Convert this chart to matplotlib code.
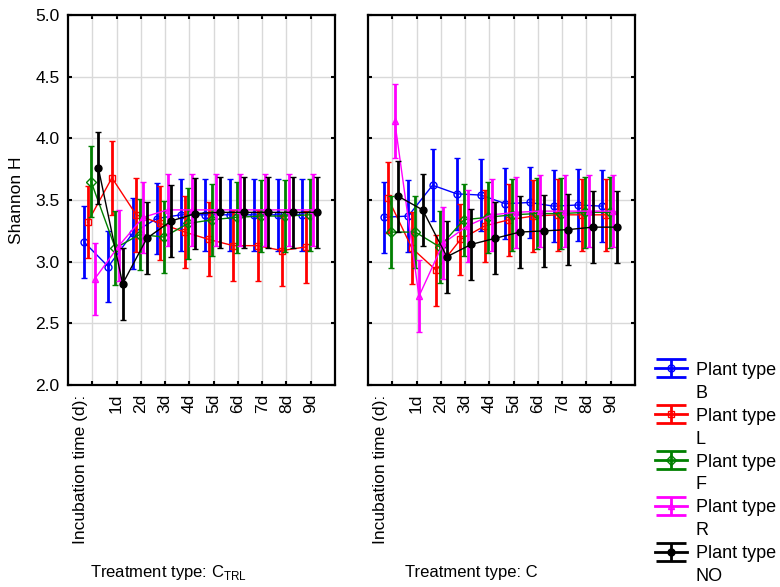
import numpy as np
import matplotlib
matplotlib.use("Agg")
import matplotlib.pyplot as plt
from matplotlib.lines import Line2D
from matplotlib.collections import LineCollection
from matplotlib.container import ErrorbarContainer

plt.rcParams["font.family"] = ["Liberation Sans", "DejaVu Sans"]
plt.rcParams["mathtext.fontset"] = "custom"
plt.rcParams["mathtext.rm"] = "Liberation Sans"

# incubation days (0 = start, left unlabeled)
DAY_LABELS = ["", "1d", "2d", "3d", "4d", "5d", "6d", "7d", "8d", "9d"]
PLANT_TYPES = ["B", "L", "F", "R", "NO"]

# Shannon H means, treatment C_TRL
ctrl_B = [3.16, 2.96, 3.23, 3.35, 3.38, 3.38, 3.38, 3.38, 3.38, 3.38]
ctrl_L = [3.32, 3.68, 3.38, 3.31, 3.24, 3.18, 3.13, 3.13, 3.09, 3.12]
ctrl_F = [3.65, 3.11, 3.22, 3.20, 3.31, 3.34, 3.36, 3.37, 3.37, 3.38]
ctrl_R = [2.86, 3.13, 3.36, 3.42, 3.42, 3.42, 3.42, 3.42, 3.42, 3.42]
ctrl_NO = [3.76, 2.82, 3.19, 3.33, 3.39, 3.40, 3.40, 3.40, 3.40, 3.40]

# Shannon H means, treatment C
c_B = [3.36, 3.37, 3.62, 3.55, 3.54, 3.47, 3.48, 3.45, 3.46, 3.45]
c_L = [3.52, 3.11, 2.93, 3.18, 3.29, 3.34, 3.37, 3.38, 3.38, 3.38]
c_F = [3.24, 3.24, 3.12, 3.34, 3.36, 3.38, 3.39, 3.39, 3.40, 3.40]
c_R = [4.14, 2.72, 3.15, 3.29, 3.38, 3.40, 3.41, 3.41, 3.41, 3.41]
c_NO = [3.53, 3.42, 3.04, 3.14, 3.19, 3.24, 3.25, 3.26, 3.28, 3.28]

# 95% CI half-widths
ctrl_err_B = [0.29, 0.29, 0.29, 0.29, 0.29, 0.29, 0.29, 0.29, 0.29, 0.29]
ctrl_err_L = [0.29, 0.30, 0.30, 0.30, 0.29, 0.30, 0.29, 0.29, 0.29, 0.29]
ctrl_err_F = [0.29, 0.30, 0.29, 0.29, 0.29, 0.29, 0.29, 0.29, 0.29, 0.29]
ctrl_err_R = [0.29, 0.29, 0.29, 0.29, 0.29, 0.29, 0.29, 0.29, 0.29, 0.29]
ctrl_err_NO = [0.29, 0.29, 0.29, 0.29, 0.29, 0.29, 0.29, 0.29, 0.29, 0.29]

c_err_B = [0.29, 0.29, 0.29, 0.29, 0.29, 0.29, 0.29, 0.29, 0.29, 0.29]
c_err_L = [0.29, 0.29, 0.29, 0.29, 0.29, 0.29, 0.29, 0.29, 0.29, 0.29]
c_err_F = [0.29, 0.29, 0.29, 0.29, 0.29, 0.29, 0.29, 0.29, 0.29, 0.29]
c_err_R = [0.30, 0.29, 0.29, 0.29, 0.29, 0.29, 0.29, 0.29, 0.29, 0.29]
c_err_NO = [0.29, 0.29, 0.29, 0.29, 0.29, 0.29, 0.29, 0.29, 0.29, 0.29]

panels = [
    ([ctrl_B, ctrl_L, ctrl_F, ctrl_R, ctrl_NO],
     [ctrl_err_B, ctrl_err_L, ctrl_err_F, ctrl_err_R, ctrl_err_NO],
     r"Treatment type: C$_{\mathrm{TRL}}$"),
    ([c_B, c_L, c_F, c_R, c_NO],
     [c_err_B, c_err_L, c_err_F, c_err_R, c_err_NO],
     "Treatment type: C"),
]

styles = {
    "B": dict(color="#0000ff", marker="o", mfc="none"),
    "L": dict(color="#ff0000", marker="s", mfc="none"),
    "F": dict(color="#008000", marker="D", mfc="none"),
    "R": dict(color="#ff00ff", marker="^", mfc="none"),
    "NO": dict(color="#000000", marker="o", mfc="#000000"),
}
dodge = [-0.34, -0.19, -0.05, 0.10, 0.25]
FS = 12.5

fig = plt.figure(figsize=(7.8, 5.87), dpi=100)
ax_pos = [(68 / 780, 0.3441, 0.3423, 0.6303), (368 / 780, 0.3441, 0.3423, 0.6303)]
text_x = [90 / 780, 405 / 780]

x = np.arange(1, len(DAY_LABELS) + 1)
for p, (means, errs, title) in enumerate(panels):
    ax = fig.add_axes(ax_pos[p])
    for k, name in enumerate(PLANT_TYPES):
        st = styles[name]
        ax.errorbar(x + dodge[k], means[k], yerr=errs[k], color=st["color"],
                    marker=st["marker"], mfc=st["mfc"], mec=st["color"],
                    ms=5, mew=1.0, lw=1.0, elinewidth=2, capsize=2,
                    capthick=2, zorder=3 + k)
    ax.set_xlim(0, 11)
    ax.set_ylim(2.0, 5.0)
    ax.set_xticks(x)
    ax.set_xticklabels(DAY_LABELS, rotation=90, fontsize=FS)
    ax.set_yticks(np.arange(2.0, 5.01, 0.5))
    if p == 0:
        ax.set_yticklabels([f"{v:.1f}" for v in np.arange(2.0, 5.01, 0.5)], fontsize=FS)
        ax.set_ylabel("Shannon H", fontsize=FS, labelpad=8)
    else:
        ax.set_yticklabels([])
    ax.tick_params(direction="in", length=3, width=1.5, top=True, right=True,
                   pad=6, colors="black")
    ax.grid(True, color="#d9d9d9", lw=1, zorder=0)
    ax.set_axisbelow(True)
    for s in ax.spines.values():
        s.set_linewidth(1.6)
    ax.text(0.5, -0.025, "Incubation time (d):", rotation=90, ha="center",
            va="top", fontsize=FS, transform=ax.get_xaxis_transform())
    fig.text(text_x[p], 0.024, title, fontsize=12, ha="left", va="center")

# legend proxies: error-bar glyphs with wide caps
handles = []
for name in PLANT_TYPES:
    st = styles[name]
    line = Line2D([], [], color=st["color"], lw=2, marker=st["marker"],
                  mfc=st["mfc"], mec=st["color"], ms=5)
    cap = Line2D([], [], color=st["color"], marker="_", ms=22, mew=2, lw=0)
    bars = LineCollection([], colors=st["color"], linewidths=2)
    handles.append(ErrorbarContainer((line, (cap, cap), (bars,)),
                                     has_xerr=False, has_yerr=True))
labels = [f"Plant type\n{n}" for n in PLANT_TYPES]
leg = fig.legend(handles, labels, loc="upper left",
                 bbox_to_anchor=(655 / 780, (587 - 362) / 587),
                 frameon=False, fontsize=13, numpoints=1, handlelength=1.75,
                 handletextpad=0.5, labelspacing=0.33, borderpad=0,
                 borderaxespad=0)
for t in leg.get_texts():
    t.set_linespacing(1.45)
for col in leg._legend_handle_box.get_children():
    for row in col.get_children():
        row.align = "top"

fig.savefig("out.png", dpi=100)
